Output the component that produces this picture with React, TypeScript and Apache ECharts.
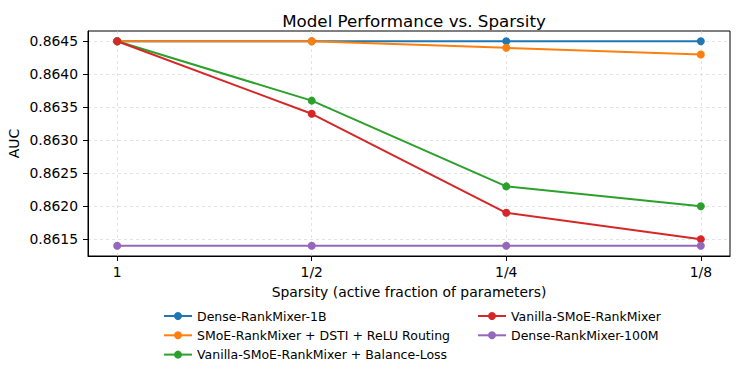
import React, { useEffect, useRef } from "react";
import * as echarts from "echarts";

const categories = ["1", "1/2", "1/4", "1/8"];
const seriesNames = [
  "Dense-RankMixer-1B",
  "SMoE-RankMixer + DSTI + ReLU Routing",
  "Vanilla-SMoE-RankMixer + Balance-Loss",
  "Vanilla-SMoE-RankMixer",
  "Dense-RankMixer-100M",
];
const dense1B = [0.8645, 0.8645, 0.8645, 0.8645];
const smoeDsti = [0.8645, 0.8645, 0.8644, 0.8643];
const vanillaBalance = [0.8645, 0.8636, 0.8623, 0.862];
const vanilla = [0.8645, 0.8634, 0.8619, 0.8615];
const dense100M = [0.8614, 0.8614, 0.8614, 0.8614];
const yTicks = [0.8615, 0.862, 0.8625, 0.863, 0.8635, 0.864, 0.8645];
const colors = ["#1f77b4", "#ff7f0e", "#2ca02c", "#d62728", "#9467bd"];

const FONT = "DejaVu Sans";

export default function App() {
  const ref = useRef<HTMLDivElement>(null);
  useEffect(() => {
    if (!ref.current) return;
    const chart = echarts.init(ref.current, null, { renderer: "svg" });
    const allValues = [dense1B, smoeDsti, vanillaBalance, vanilla, dense100M];
    const xIdx = categories.map((_, i) => i);
    const gridStyle = { color: "#d0d0d0", width: 0.6, type: [3, 3] as any };
    const series: any[] = allValues.map((vals, k) => ({
      name: seriesNames[k],
      type: "line",
      z: 2,
      data: vals.map((v, i) => [xIdx[i], v]),
      symbol: "circle",
      symbolSize: 8,
      showSymbol: true,
      lineStyle: { width: 2, color: colors[k] },
      itemStyle: { color: colors[k] },
      emphasis: { disabled: true },
    }));
    const legendCommon = {
      orient: "vertical",
      top: 304,
      itemWidth: 28,
      itemHeight: 10,
      itemGap: 5.3,
      textStyle: { fontFamily: FONT, fontSize: 12.5, color: "#000", lineHeight: 14 },
      selectedMode: false,
    };
    chart.setOption({
      animation: false,
      color: colors,
      textStyle: { fontFamily: FONT },
      title: {
        text: "Model Performance vs. Sparsity",
        left: 409,
        textAlign: "center",
        top: 7,
        textStyle: { fontFamily: FONT, fontSize: 16.7, fontWeight: "normal", color: "#000" },
      },
      grid: {
        left: 88,
        right: 10,
        top: 31,
        bottom: 118,
        containLabel: false,
        outerBoundsMode: "none",
        show: true,
        borderColor: "#000",
        borderWidth: 1,
        backgroundColor: "transparent",
      },
      legend: [
        { ...legendCommon, left: 158, data: seriesNames.slice(0, 3) },
        { ...legendCommon, left: 472, data: seriesNames.slice(3) },
      ],
      xAxis: {
        type: "value",
        min: -0.15,
        max: 3.15,
        name: "Sparsity (active fraction of parameters)",
        nameLocation: "middle",
        nameGap: 29,
        nameTextStyle: { fontFamily: FONT, fontSize: 13.9, color: "#000" },
        axisLine: { show: true, onZero: false, lineStyle: { color: "#000", width: 1 } },
        axisTick: { show: true, length: 5, lineStyle: { color: "#000" }, customValues: xIdx },
        axisLabel: {
          customValues: xIdx,
          formatter: (v: number) => categories[Math.round(v)] ?? "",
          fontFamily: FONT,
          fontSize: 13.9,
          color: "#000",
          margin: 9,
        },
        splitLine: { show: true, lineStyle: gridStyle },
      },
      yAxis: {
        type: "value",
        min: 0.861245,
        max: 0.864655,
        name: "AUC",
        nameLocation: "middle",
        nameGap: 67,
        nameRotate: 90,
        nameMoveOverlap: false,
        nameTextStyle: { fontFamily: FONT, fontSize: 13.9, color: "#000" },
        axisLine: { show: true, onZero: false, lineStyle: { color: "#000", width: 1 } },
        axisTick: { show: true, length: 5, lineStyle: { color: "#000" }, customValues: yTicks },
        axisLabel: {
          customValues: yTicks,
          formatter: (v: number) => v.toFixed(4),
          fontFamily: FONT,
          fontSize: 13.9,
          color: "#000",
          margin: 10,
        },
        splitLine: { show: true, lineStyle: gridStyle },
      },
      series,
    });
    return () => chart.dispose();
  }, []);
  return (
    <div
      ref={ref}
      style={{ position: "fixed", left: 0, top: 0, width: 740, height: 374, background: "#fff" }}
    />
  );
}
